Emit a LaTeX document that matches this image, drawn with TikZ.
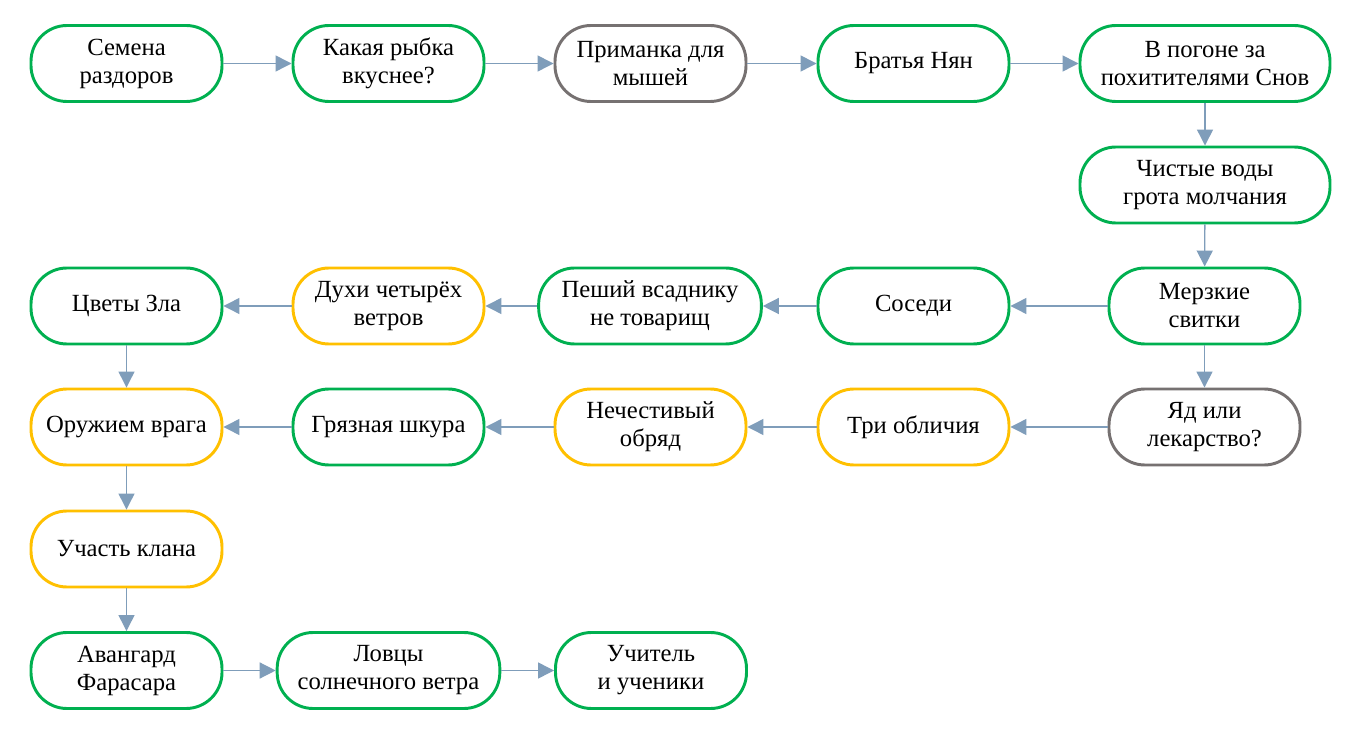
\documentclass[tikz,border=0pt]{standalone}
\usepackage{fontspec}
\setmainfont{Liberation Serif}
\newfontfamily\nodefont{Liberation Serif}
\usetikzlibrary{arrows.meta}
\definecolor{cgreen}{HTML}{00B050}
\definecolor{cyellow}{HTML}{FFC000}
\definecolor{cgray}{HTML}{767171}
\definecolor{carrow}{HTML}{7F9DBA}
\begin{document}
\begin{tikzpicture}[x=0.75pt,y=-0.75pt,
  box/.style={draw, line width=2.2pt, rounded corners=27pt, minimum width=143.25pt, minimum height=57pt,
    inner sep=0pt, align=center, font=\nodefont\fontsize{18.5}{21}\selectfont, fill=white, text=black},
  wide/.style={minimum width=187.5pt},
  mid/.style={minimum width=167pt},
  gbox/.style={box, draw=cgreen},
  ybox/.style={box, draw=cyellow},
  kbox/.style={box, draw=cgray},
  conn/.style={draw=carrow, line width=1pt, -{Triangle[length=12pt,width=12pt]}}]
\useasboundingbox (0,0) rectangle (1359,730);
\fill[white] (0,0) rectangle (1359,730);
% row 1
\node[gbox] (n1) at (126.5,63.5) {Семена\\раздоров};
\node[gbox] (n2) at (388.5,63.5) {Какая рыбка\\вкуснее?};
\node[kbox] (n3) at (650.5,63.5) {Приманка для\\мышей};
\node[gbox] (n4) at (913.5,63.5) {Братья Нян};
\node[gbox, wide] (n5) at (1205,63.5) {В погоне за\\похитителями Снов};
% row 2
\node[gbox, wide] (n6) at (1205,185) {Чистые воды\\грота молчания};
% row 3
\node[gbox] (n7) at (1204.5,306) {Мерзкие\\свитки};
\node[gbox] (n8) at (913.5,306) {Соседи};
\node[gbox, mid] (n9) at (650,306) {Пеший всаднику\\не товарищ};
\node[ybox] (n10) at (388.5,306) {Духи четырёх\\ветров};
\node[gbox] (n11) at (126.5,306) {Цветы Зла};
% row 4
\node[kbox] (n12) at (1204.5,427) {Яд или\\лекарство?};
\node[ybox] (n13) at (913.5,427) {Три обличия};
\node[ybox] (n14) at (650.5,427) {Нечестивый\\обряд};
\node[gbox] (n15) at (388.5,427) {Грязная шкура};
\node[ybox] (n16) at (126.5,427) {Оружием врага};
% row 5
\node[ybox] (n17) at (126.5,549) {Участь клана};
% row 6
\node[gbox] (n18) at (126.5,670.5) {Авангард\\Фарасара};
\node[gbox, mid] (n19) at (388.5,670.5) {Ловцы\\солнечного ветра};
\node[gbox] (n20) at (651,670.5) {Учитель\\и ученики};
% connectors
\draw[conn] (n1) -- (n2);
\draw[conn] (n2) -- (n3);
\draw[conn] (n3) -- (n4);
\draw[conn] (n4) -- (n5);
\draw[conn] (n5) -- (n6);
\draw[conn] (n6) -- (n7);
\draw[conn] (n7) -- (n8);
\draw[conn] (n8) -- (n9);
\draw[conn] (n9) -- (n10);
\draw[conn] (n10) -- (n11);
\draw[conn] (n7) -- (n12);
\draw[conn] (n12) -- (n13);
\draw[conn] (n13) -- (n14);
\draw[conn] (n14) -- (n15);
\draw[conn] (n15) -- (n16);
\draw[conn] (n11) -- (n16);
\draw[conn] (n16) -- (n17);
\draw[conn] (n17) -- (n18);
\draw[conn] (n18) -- (n19);
\draw[conn] (n19) -- (n20);
\end{tikzpicture}
\end{document}
